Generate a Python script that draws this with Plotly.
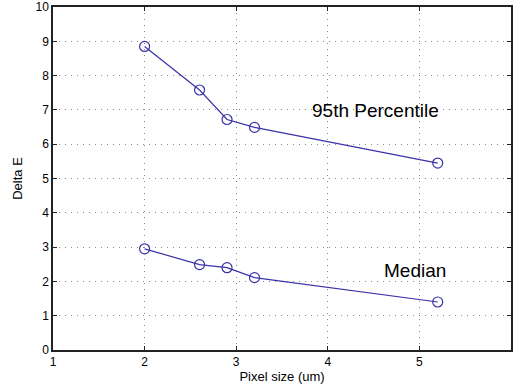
import plotly.graph_objects as go

# Pixel size (um) versus colour error (Delta E)
pixel_size = [2.0, 2.6, 2.9, 3.2, 5.2]
delta_e_p95 = [8.85, 7.58, 6.72, 6.49, 5.45]
delta_e_median = [2.95, 2.49, 2.40, 2.11, 1.40]

x_ticks = [1, 2, 3, 4, 5]
y_ticks = list(range(0, 11))

line_color = "#3a32a6"
font_family = "Liberation Sans, Arial, Helvetica, sans-serif"

fig = go.Figure()
for name, values in [("95th Percentile", delta_e_p95), ("Median", delta_e_median)]:
    fig.add_trace(go.Scatter(
        x=pixel_size, y=values, name=name, mode="lines+markers",
        line=dict(color=line_color, width=1.2),
        marker=dict(symbol="circle-open", size=10, color=line_color,
                    line=dict(width=1.2, color=line_color)),
        showlegend=False,
    ))

fig.add_annotation(x=4.52, y=6.98, text="95th Percentile", showarrow=False,
                   font=dict(size=19, color="black", family=font_family))
fig.add_annotation(x=4.95, y=2.33, text="Median", showarrow=False,
                   font=dict(size=19, color="black", family=font_family))

axis_common = dict(
    showline=True, linecolor="#222222", linewidth=1.5, mirror="ticks",
    ticks="inside", ticklen=4, tickcolor="#222222", tickwidth=1,
    showgrid=True, gridcolor="#8c8c8c", griddash="1px,5px", gridwidth=1,
    zeroline=False, ticklabeloverflow="allow",
    tickfont=dict(size=12, color="black", family=font_family),
)

fig.update_xaxes(range=[1, 6], tickvals=x_ticks, ticktext=[str(v) for v in x_ticks],
                 title=dict(text="Pixel size (um)", standoff=4,
                            font=dict(size=13, color="black", family=font_family)),
                 **axis_common)
fig.update_yaxes(range=[0, 10], tickvals=y_ticks,
                 title=dict(text="Delta E", standoff=10,
                            font=dict(size=13, color="black", family=font_family)),
                 **axis_common)

fig.update_layout(
    width=513, height=390,
    margin=dict(l=53, r=0, t=6, b=40),
    paper_bgcolor="white", plot_bgcolor="white",
    font=dict(family=font_family, color="black"),
)

fig.write_html("out.html")
